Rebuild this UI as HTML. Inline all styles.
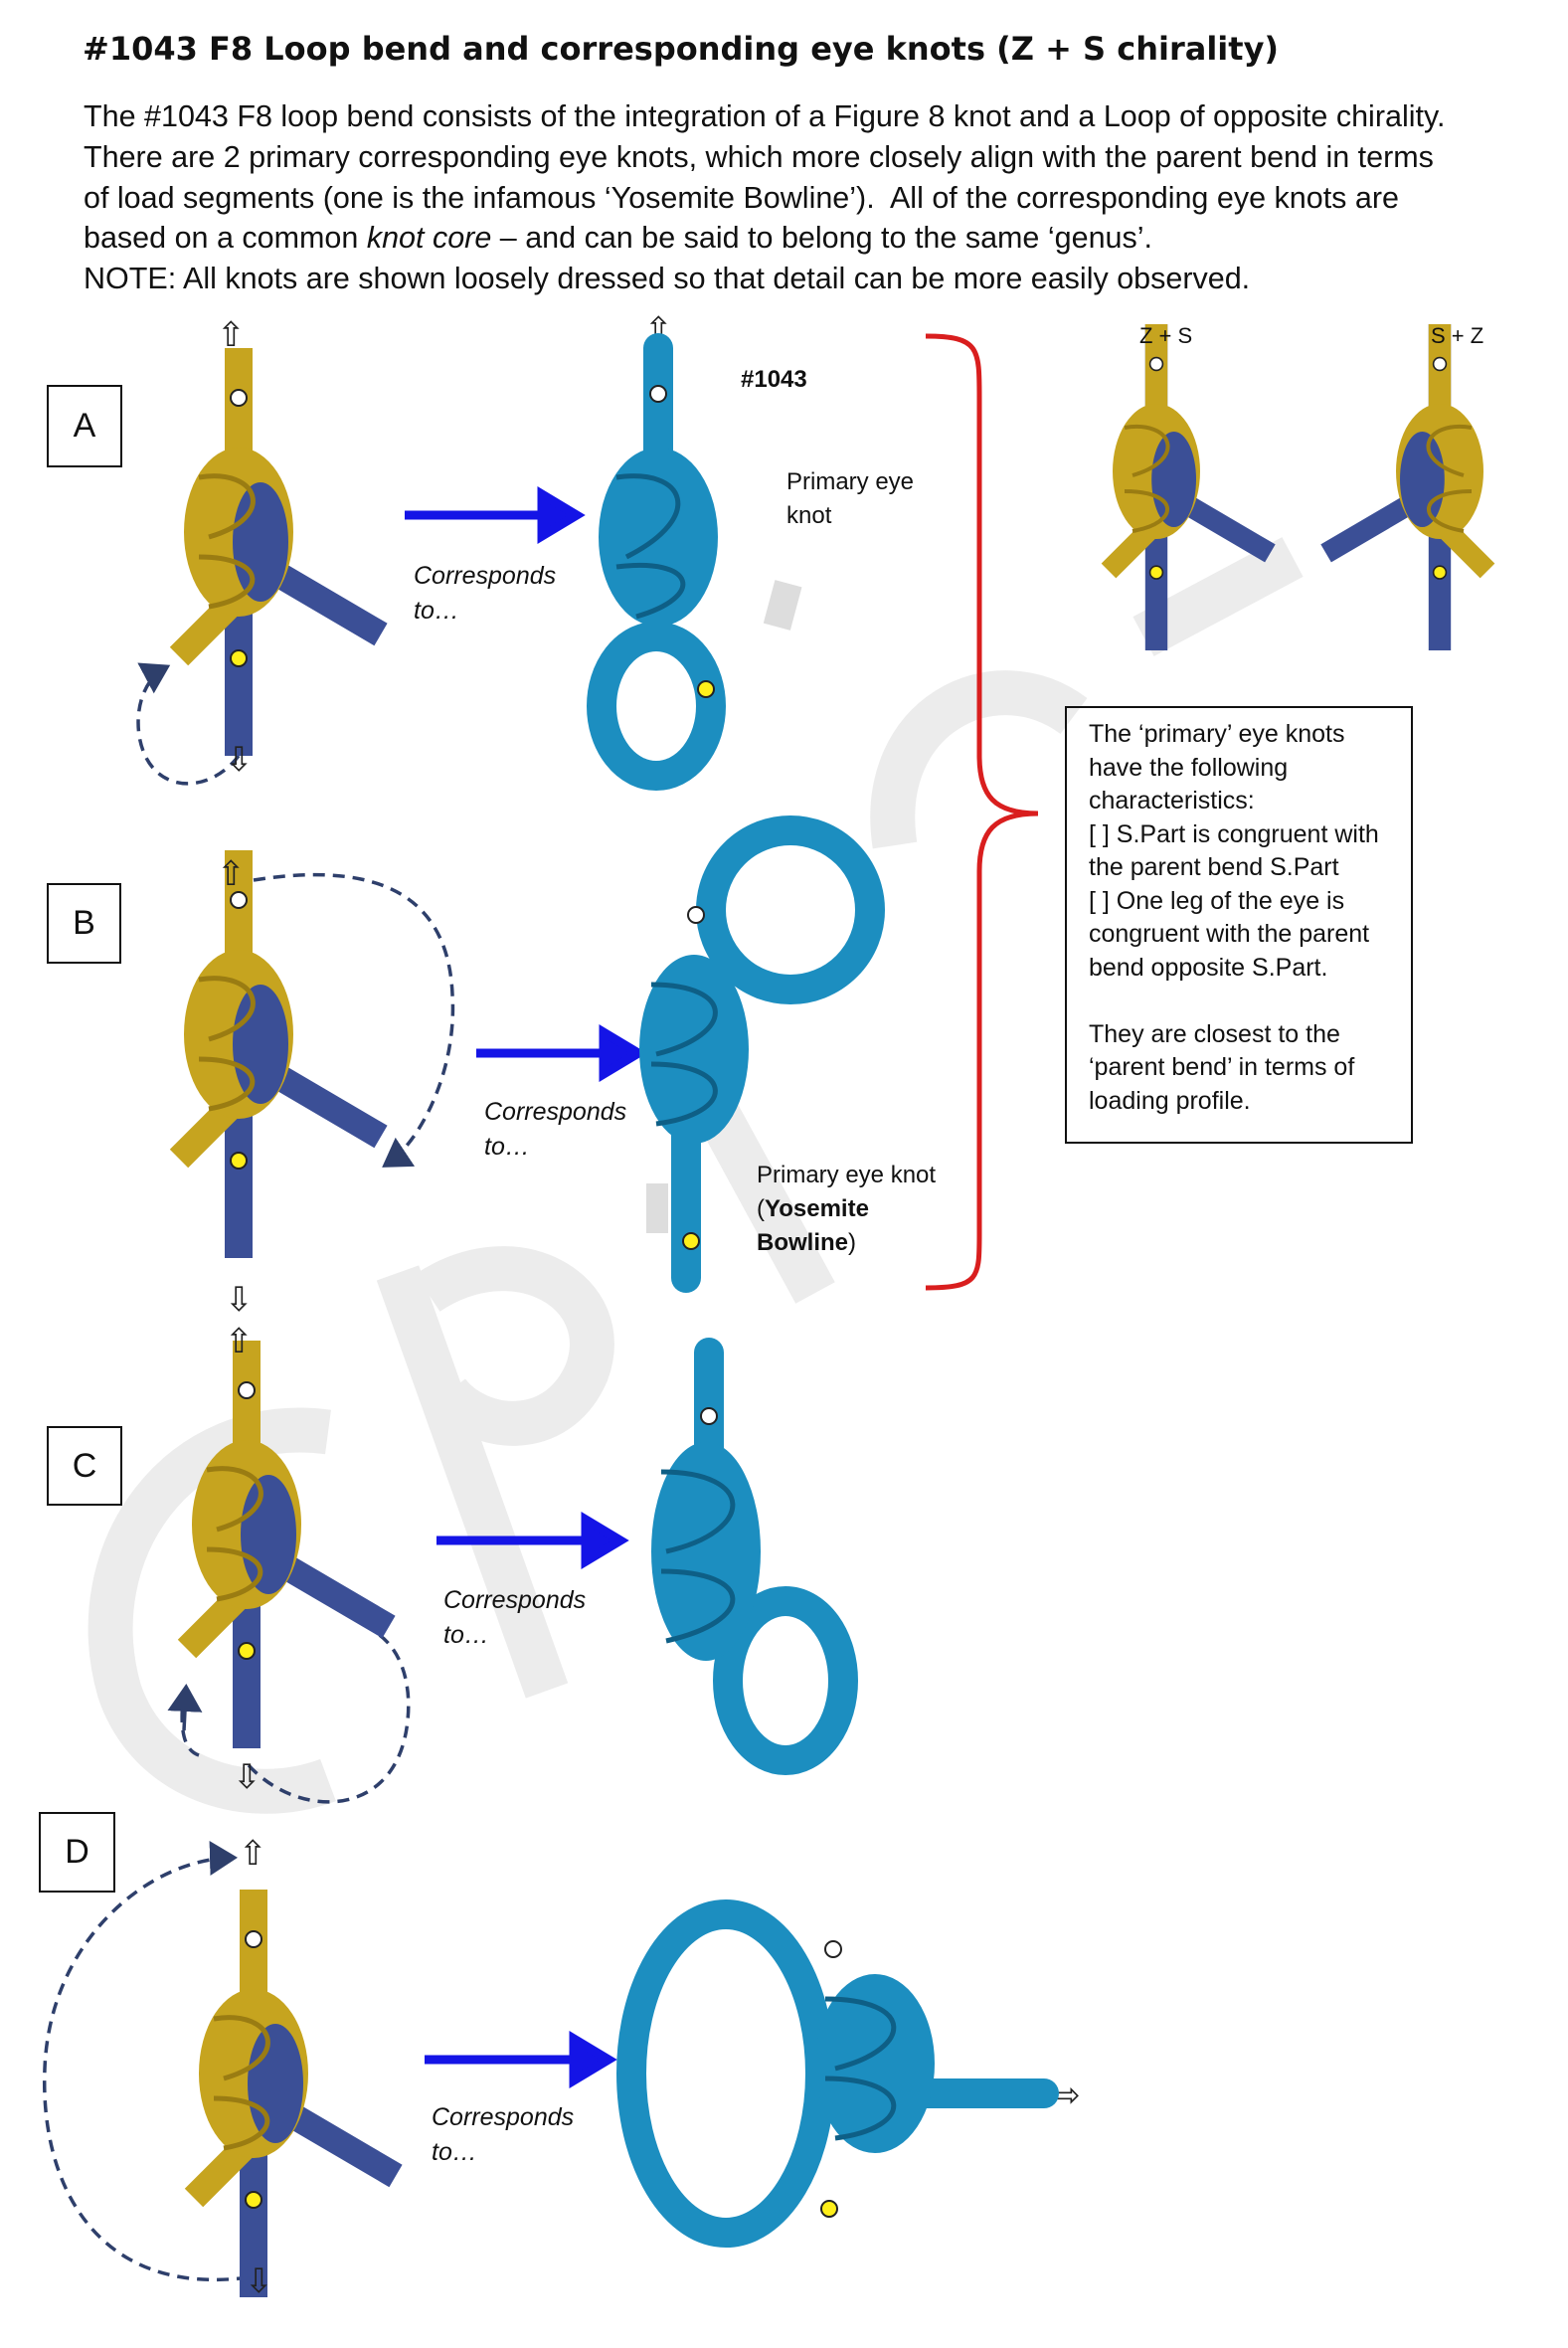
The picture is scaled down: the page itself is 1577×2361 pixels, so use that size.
<!DOCTYPE html>
<html><head><meta charset="utf-8"><style>
html,body{margin:0;padding:0;background:#fff;}
#c{position:relative;width:1577px;height:2361px;overflow:hidden;font-family:"Liberation Sans",sans-serif;color:#111;}
.t{position:absolute;white-space:nowrap;}
.box{position:absolute;border:2.5px solid #111;box-sizing:border-box;font-size:34px;display:flex;align-items:center;justify-content:center;}
.it{font-style:italic;font-size:25px;line-height:35px;}
svg{position:absolute;left:0;top:0;}
</style></head><body><div id="c">
<svg width="1577" height="2361" viewBox="0 0 1577 2361">
<defs>
<marker id="ah" markerWidth="10" markerHeight="10" refX="6" refY="5" orient="auto"><path d="M0,0 L8,5 L0,10 Z" fill="#2e3f6b"/></marker>
</defs>
<g fill="none" stroke="#ececec" stroke-width="45">
<path d="M330,1440 C180,1420 80,1560 120,1700 C150,1790 250,1820 330,1790"/>
<path d="M400,1280 L550,1700"/>
<path d="M430,1300 C520,1240 620,1300 590,1380 C560,1450 480,1440 450,1400"/>
<path d="M700,1080 L820,1300"/>
<path d="M900,850 C880,720 1000,660 1080,720"/>
<path d="M1150,640 L1300,560"/>
</g>
<g stroke="#1414e6" stroke-width="9" fill="#1414e6">
<line x1="407" y1="518" x2="550" y2="518"/><path d="M545,497 L580,518 L545,539 Z"/>
<line x1="479" y1="1059" x2="612" y2="1059"/><path d="M607,1038 L642,1059 L607,1080 Z"/>
<line x1="439" y1="1549" x2="594" y2="1549"/><path d="M589,1528 L624,1549 L589,1570 Z"/>
<line x1="427" y1="2071" x2="582" y2="2071"/><path d="M577,2050 L612,2071 L577,2092 Z"/>
</g>
<path d="M931,338 C985,338 985,350 985,400 L985,760 C985,800 1000,818 1044,818 C1000,818 985,836 985,876 L985,1240 C985,1285 985,1295 931,1295" fill="none" stroke="#d91e1e" stroke-width="5"/>
<g fill="none" stroke="#2e3f6b" stroke-width="3.5" stroke-dasharray="12,8">
<path d="M240,760 C210,800 150,800 140,740 C135,705 150,680 165,672" marker-end="url(#ah)"/>
<path d="M255,885 C350,870 450,880 455,1000 C460,1080 420,1150 390,1170" marker-end="url(#ah)"/>
<path d="M250,1775 C300,1830 400,1830 410,1730 C415,1680 395,1650 375,1640 M185,1700 C180,1740 185,1760 200,1765"/>
<path d="M250,2290 C100,2310 40,2200 45,2080 C50,1950 150,1870 232,1868" marker-end="url(#ah)"/>
</g>
<path d="M185,1740 L187,1700" stroke="#2e3f6b" stroke-width="3.5" marker-end="url(#ah)"/>
<g id="yk">
<line x1="240" y1="350" x2="240" y2="760" stroke="#3b4f96" stroke-width="28"/>
<line x1="240" y1="350" x2="240" y2="470" stroke="#c6a41f" stroke-width="28"/>
<path d="M250,560 L383,638" stroke="#3b4f96" stroke-width="26"/>
<path d="M240,600 L180,660" stroke="#c6a41f" stroke-width="26"/>
<ellipse cx="240" cy="535" rx="55" ry="85" fill="#c6a41f"/>
<ellipse cx="262" cy="545" rx="28" ry="60" fill="#3b4f96"/>
<path d="M200,480 C260,470 280,520 210,540 M200,560 C270,560 270,600 210,610" stroke="#9a7c12" stroke-width="5" fill="none"/>
<circle cx="240" cy="400" r="8" fill="#fff" stroke="#222" stroke-width="2"/>
<circle cx="240" cy="662" r="8" fill="#ffef1a" stroke="#222" stroke-width="2"/>
</g>
<use href="#yk" transform="translate(0,505)"/>
<use href="#yk" transform="translate(8,998)"/>
<use href="#yk" transform="translate(15,1550)"/>
<use href="#yk" transform="translate(1163,390) scale(0.8) translate(-240,-430)"/>
<use href="#yk" transform="translate(1448,390) scale(-0.8,0.8) translate(-240,-430)"/>
<g font-family="DejaVu Sans" font-size="34" fill="#222">
<text x="218" y="348">⇧</text><text x="226" y="775">⇩</text>
<text x="648" y="343">⇧</text>
<text x="218" y="890">⇧</text><text x="226" y="1318">⇩</text>
<text x="226" y="1360">⇧</text><text x="234" y="1798">⇩</text>
<text x="240" y="1875">⇧</text><text x="246" y="2305">⇩</text>
<text x="1058" y="2118">⇨</text>
</g>
<g fill="none" stroke="#1c8ec0" stroke-width="30" stroke-linecap="round">
<line x1="662" y1="350" x2="662" y2="470"/>
<ellipse cx="660" cy="710" rx="55" ry="70"/>
<ellipse cx="795" cy="915" rx="80" ry="80"/>
<line x1="690" y1="1120" x2="690" y2="1285"/>
<line x1="713" y1="1360" x2="713" y2="1470"/>
<ellipse cx="790" cy="1690" rx="58" ry="80"/>
<ellipse cx="730" cy="2085" rx="95" ry="160"/>
<line x1="880" y1="2105" x2="1050" y2="2105"/>
</g>
<g fill="#1c8ec0">
<ellipse cx="662" cy="540" rx="60" ry="90"/>
<ellipse cx="698" cy="1055" rx="55" ry="95"/>
<ellipse cx="710" cy="1560" rx="55" ry="110"/>
<ellipse cx="880" cy="2075" rx="60" ry="90"/>
</g>
<g fill="none" stroke="#0e5f86" stroke-width="5">
<path d="M620,480 C690,470 710,520 630,560 M620,570 C700,560 710,600 640,620"/>
<path d="M655,990 C740,990 740,1040 660,1060 M655,1070 C740,1070 740,1120 660,1130"/>
<path d="M665,1480 C760,1480 760,1540 670,1560 M665,1580 C760,1580 760,1630 670,1650"/>
<path d="M830,2010 C920,2010 920,2060 840,2080 M830,2090 C920,2090 920,2140 840,2150"/>
</g>
<rect x="765" y="595" width="45" height="28" fill="#ddd" transform="rotate(-75 787 609)"/>
<rect x="650" y="1190" width="22" height="50" fill="#ddd"/>
<g stroke="#222" stroke-width="2">
<circle cx="662" cy="396" r="8" fill="#fff"/><circle cx="710" cy="693" r="8" fill="#ffef1a"/>
<circle cx="700" cy="920" r="8" fill="#fff"/><circle cx="695" cy="1248" r="8" fill="#ffef1a"/>
<circle cx="713" cy="1424" r="8" fill="#fff"/>
<circle cx="838" cy="1960" r="8" fill="#fff"/><circle cx="834" cy="2221" r="8" fill="#ffef1a"/>
</g>
</svg>

<div class="t" style="left:83px;top:30px;font-family:'DejaVu Sans',sans-serif;font-size:32px;font-weight:bold;">#1043 F8 Loop bend and corresponding eye knots (Z + S chirality)</div>
<div class="t" style="left:84px;top:97px;font-size:30.5px;line-height:40.8px;">The #1043 F8 loop bend consists of the integration of a Figure 8 knot and a Loop of opposite chirality.<br>There are 2 primary corresponding eye knots, which more closely align with the parent bend in terms<br>of load segments (one is the infamous ‘Yosemite Bowline’).&nbsp; All of the corresponding eye knots are<br>based on a common <i>knot core</i> – and can be said to belong to the same ‘genus’.<br>NOTE: All knots are shown loosely dressed so that detail can be more easily observed.</div>

<div class="box" style="left:47px;top:387px;width:76px;height:83px;">A</div>
<div class="box" style="left:47px;top:888px;width:75px;height:81px;">B</div>
<div class="box" style="left:47px;top:1434px;width:76px;height:80px;">C</div>
<div class="box" style="left:39px;top:1822px;width:77px;height:81px;">D</div>

<div class="t it" style="left:416px;top:562px;">Corresponds<br>to…</div>
<div class="t it" style="left:487px;top:1101px;">Corresponds<br>to…</div>
<div class="t it" style="left:446px;top:1592px;">Corresponds<br>to…</div>
<div class="t it" style="left:434px;top:2112px;">Corresponds<br>to…</div>

<div class="t" style="left:745px;top:368px;font-size:24px;font-weight:bold;">#1043</div>
<div class="t" style="left:791px;top:468px;font-size:24px;line-height:34px;">Primary eye<br>knot</div>
<div class="t" style="left:761px;top:1165px;font-size:24px;line-height:34px;">Primary eye knot<br>(<b>Yosemite</b><br><b>Bowline</b>)</div>
<div class="t" style="left:1146px;top:325px;font-size:22px;">Z + S</div>
<div class="t" style="left:1439px;top:325px;font-size:22px;">S + Z</div>

<div style="position:absolute;left:1071px;top:710px;width:350px;height:440px;border:2.5px solid #111;box-sizing:border-box;"></div>
<div class="t" style="left:1095px;top:722px;font-size:25px;line-height:33.5px;">The ‘primary’ eye knots<br>have the following<br>characteristics:<br>[ ] S.Part is congruent with<br>the parent bend S.Part<br>[ ] One leg of the eye is<br>congruent with the parent<br>bend opposite S.Part.<br><br>They are closest to the<br>‘parent bend’ in terms of<br>loading profile.</div>
</div></body></html>
